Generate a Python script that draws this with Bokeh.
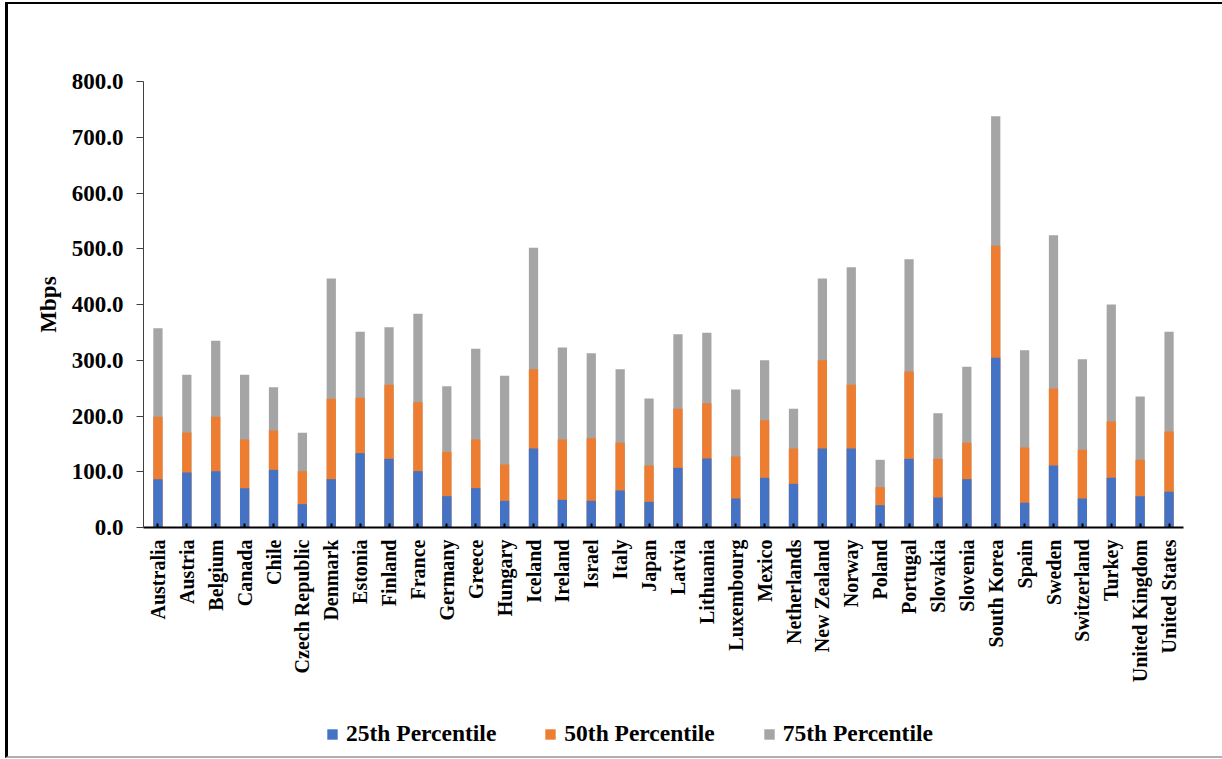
import math
from bokeh.plotting import figure
from bokeh.layouts import column
from bokeh.models import (FixedTicker, NumeralTickFormatter, Range1d, Legend,
                          LegendItem, ColumnDataSource)
from bokeh.embed import file_html
from bokeh.resources import INLINE

countries = ["Australia", "Austria", "Belgium", "Canada", "Chile", "Czech Republic",
             "Denmark", "Estonia", "Finland", "France", "Germany", "Greece", "Hungary",
             "Iceland", "Ireland", "Israel", "Italy", "Japan", "Latvia", "Lithuania",
             "Luxembourg", "Mexico", "Netherlands", "New Zealand", "Norway", "Poland",
             "Portugal", "Slovakia", "Slovenia", "South Korea", "Spain", "Sweden",
             "Switzerland", "Turkey", "United Kingdom", "United States"]

p25 = [86.7, 98.7, 101.0, 70.6, 103.4, 41.9, 86.7, 133.3, 123.2, 101.0, 56.2, 70.6, 47.8,
       141.7, 49.6, 47.8, 66.4, 46.0, 107.0, 123.8, 52.0, 89.1, 78.3, 141.7, 141.7, 40.0,
       123.2, 53.8, 86.7, 304.3, 44.2, 111.2, 52.0, 89.1, 56.2, 64.0]
p50 = [198.5, 170.4, 198.5, 157.8, 174.0, 101.0, 230.8, 232.6, 255.9, 224.8, 135.7, 157.8,
       113.0, 284.0, 157.8, 160.2, 151.9, 111.2, 212.9, 223.0, 127.4, 192.5, 141.7, 300.1,
       255.9, 72.3, 279.8, 123.2, 151.9, 505.2, 143.5, 249.3, 139.3, 190.1, 121.4, 172.2]
p75 = [357.6, 273.8, 334.8, 273.8, 251.7, 169.8, 446.6, 351.0, 359.3, 383.3, 253.5, 320.5,
       272.0, 501.6, 322.9, 312.7, 284.0, 231.4, 346.8, 349.2, 247.5, 300.1, 212.9, 446.6,
       467.0, 121.4, 481.3, 205.1, 288.2, 737.8, 318.1, 524.4, 301.9, 400.0, 235.0, 351.0]

y_ticks = [0, 100, 200, 300, 400, 500, 600, 700, 800]
series_names = ["25th Percentile", "50th Percentile", "75th Percentile"]
colors = ["#4472C4", "#ED7D31", "#A5A5A5"]

FONT = "Liberation Serif"

src = ColumnDataSource(dict(c=countries, p25=p25, p50=p50, p75=p75))

p = figure(x_range=countries, y_range=Range1d(0, 800), width=1214, height=696,
           output_backend="svg", toolbar_location=None,
           min_border_left=135, min_border_right=39, min_border_top=77,
           min_border_bottom=173)
p.outline_line_color = None
p.xgrid.grid_line_color = None
p.ygrid.grid_line_color = None
p.background_fill_color = "white"
p.border_fill_color = "white"

r75 = p.vbar(x="c", top="p75", width=0.32, source=src, fill_color=colors[2], line_color=None)
r50 = p.vbar(x="c", top="p50", width=0.32, source=src, fill_color=colors[1], line_color=None)
r25 = p.vbar(x="c", top="p25", width=0.32, source=src, fill_color=colors[0], line_color=None)

# y axis
ya = p.yaxis[0]
ya.ticker = FixedTicker(ticks=y_ticks)
ya.formatter = NumeralTickFormatter(format="0.0")
ya.axis_label = "Mbps"
ya.axis_label_text_font = FONT
ya.axis_label_text_font_style = "bold"
ya.axis_label_text_font_size = "23px"
ya.axis_label_text_color = "black"
ya.axis_label_standoff = 8
ya.major_label_text_font = FONT
ya.major_label_text_font_style = "bold"
ya.major_label_text_font_size = "23px"
ya.major_label_text_color = "black"
ya.major_label_standoff = 13
ya.major_tick_out = 7
ya.major_tick_in = 0
ya.minor_tick_line_color = None
ya.axis_line_color = "#404040"
ya.major_tick_line_color = "#404040"

# x axis
xa = p.xaxis[0]
xa.major_label_orientation = math.pi / 2
xa.major_label_text_font = FONT
xa.major_label_text_font_style = "bold"
xa.major_label_text_font_size = "20px"
xa.major_label_text_color = "black"
xa.major_label_standoff = 12
xa.major_tick_in = 4
xa.major_tick_out = 0
xa.major_tick_line_width = 2
xa.major_tick_line_color = "black"
xa.axis_line_color = "black"
xa.axis_line_width = 2

# legend strip below the chart (its frame is aligned with the main chart's frame)
lf = figure(width=1214, height=56, output_backend="svg", toolbar_location=None,
            x_axis_location=None, y_axis_location=None,
            x_range=Range1d(0, 1), y_range=Range1d(0, 1),
            min_border_left=0, min_border_right=0, min_border_top=0, min_border_bottom=0)
lf.outline_line_color = None
lf.xgrid.grid_line_color = None
lf.ygrid.grid_line_color = None
lr = [lf.scatter(x=[0.5], y=[0.5], size=0, marker="square", fill_color=c, line_color=None)
      for c in colors]

legend = Legend(items=[LegendItem(label=series_names[i], renderers=[lr[i]]) for i in range(3)],
                orientation="horizontal", location=(175, 9))
legend.label_text_font = FONT
legend.label_text_font_style = "bold"
legend.label_text_font_size = "23.5px"
legend.label_text_color = "black"
legend.glyph_width = 28
legend.glyph_height = 26
legend.label_standoff = 0
legend.spacing = 40
legend.padding = 0
legend.margin = 0
legend.border_line_color = None
legend.background_fill_alpha = 0
lf.add_layout(legend, "center")

layout = column(p, lf, spacing=0)
layout.margin = (2, 0, 0, 5)
layout.styles = {"border-left": "3px solid black", "border-top": "2px solid black",
                 "border-bottom": "2px solid #b0b0b0"}

open("out.html", "w").write(file_html(layout, INLINE))
